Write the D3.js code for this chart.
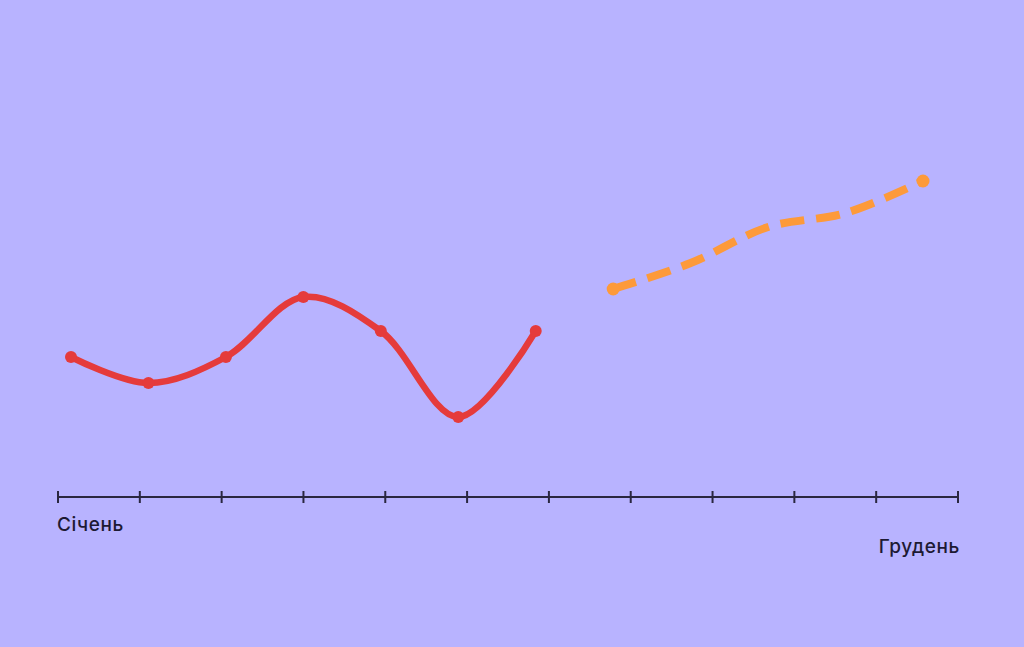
<!DOCTYPE html>
<html>
<head>
<meta charset="utf-8">
<script src="https://cdn.jsdelivr.net/npm/d3@7"></script>
<style>
  html, body { margin: 0; padding: 0; background: #b8b3ff; }
  svg { display: block; }
</style>
</head>
<body>
<svg id="chart" width="1024" height="647"></svg>
<script>
const months = ["Січень","Лютий","Березень","Квітень","Травень","Червень","Липень","Серпень","Вересень","Жовтень","Листопад","Грудень"];
const actualMonths = ["Січень","Лютий","Березень","Квітень","Травень","Червень","Липень"];
const actualValues = [35, 28.5, 35, 50, 41.5, 20, 41.5];
const forecastMonths = ["Серпень","Вересень","Жовтень","Листопад","Грудень"];
const forecastValues = [52, 58.5, 67.5, 71, 79];
const labelMonths = ["Січень", "Грудень"];

const W = 1024, H = 647;
const svg = d3.select("#chart");
svg.append("rect").attr("width", W).attr("height", H).attr("fill", "#b8b3ff");

const xTick = d3.scalePoint().domain(months).range([58, 958]);
const xPt = d3.scalePoint().domain(months).range([71, 923]);
const y = d3.scaleLinear().domain([0, 100]).range([497, 97]);

// axis
const axisG = svg.append("g").attr("transform", `translate(0,${y(0)})`);
axisG.append("line")
  .attr("x1", xTick(months[0])).attr("x2", xTick(months[11]))
  .attr("stroke", "#2a2740").attr("stroke-width", 2);
axisG.selectAll("line.tick").data(months).join("line")
  .attr("class", "tick")
  .attr("x1", d => xTick(d)).attr("x2", d => xTick(d))
  .attr("y1", -6).attr("y2", 6)
  .attr("stroke", "#2a2740").attr("stroke-width", 2);

// labels
const font = "Inter, 'Noto Sans', sans-serif";
svg.append("text").attr("x", xTick(labelMonths[0]) - 1).attr("y", 531)
  .attr("text-anchor", "start")
  .attr("font-family", font).attr("font-weight", 500)
  .attr("font-size", 19).attr("letter-spacing", 0.6).attr("fill", "#1d1a33").text(labelMonths[0]);
svg.append("text").attr("x", xTick(labelMonths[1]) + 2).attr("y", 553)
  .attr("text-anchor", "end")
  .attr("font-family", font).attr("font-weight", 500)
  .attr("font-size", 19).attr("letter-spacing", 0.6).attr("fill", "#1d1a33").text(labelMonths[1]);

const line = d3.line().curve(d3.curveCatmullRom.alpha(0.5));

// actual line
const actualPts = actualMonths.map((m, i) => [xPt(m), y(actualValues[i])]);
svg.append("path").attr("d", line(actualPts))
  .attr("fill", "none").attr("stroke", "#e53b3b").attr("stroke-width", 6.5)
  .attr("stroke-linecap", "round");
svg.selectAll("circle.a").data(actualPts).join("circle")
  .attr("class", "a").attr("cx", d => d[0]).attr("cy", d => d[1]).attr("r", 6)
  .attr("fill", "#e53b3b");

// forecast line
const forecastPts = forecastMonths.map((m, i) => [xPt(m), y(forecastValues[i])]);
svg.append("path").attr("d", line(forecastPts))
  .attr("fill", "none").attr("stroke", "#fd9a3a").attr("stroke-width", 8)
  .attr("stroke-dasharray", "24 12");
const ends = [forecastPts[0], forecastPts[forecastPts.length - 1]];
svg.selectAll("circle.f").data(ends).join("circle")
  .attr("class", "f").attr("cx", d => d[0]).attr("cy", d => d[1]).attr("r", 6.5)
  .attr("fill", "#fd9a3a");
</script>
</body>
</html>
